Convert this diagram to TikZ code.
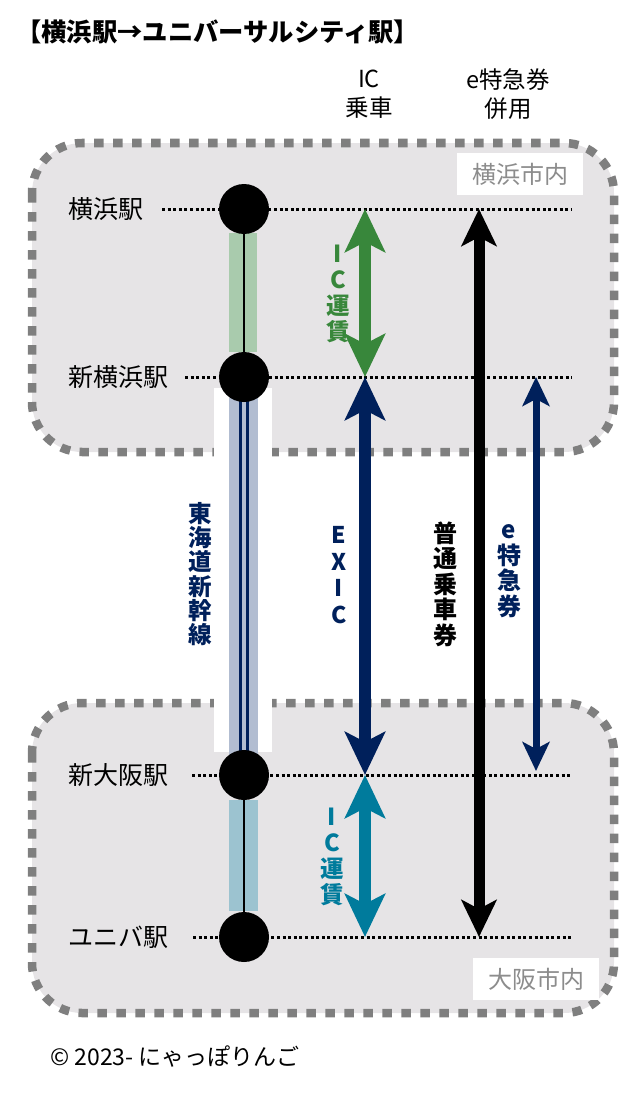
\documentclass[tikz,border=0pt]{standalone}
\usepackage{fontspec}
\setmainfont{Noto Sans CJK JP}
\usetikzlibrary{arrows.meta}
\pgfdeclarelayer{back}
\pgfsetlayers{back,main}
\definecolor{regfill}{HTML}{E6E4E6}
\definecolor{dashgray}{HTML}{7F7F7F}
\definecolor{icgreen}{HTML}{38873B}
\definecolor{gband}{HTML}{A9CBAD}
\definecolor{navy}{HTML}{00205B}
\definecolor{bband}{HTML}{B2BDD1}
\definecolor{icteal}{HTML}{007B9C}
\definecolor{tband}{HTML}{9CC3D0}
\definecolor{lblgray}{HTML}{8C8C8C}
\begin{document}
\begin{tikzpicture}[x=1pt,y=-1pt,
  region/.style={fill=regfill,draw=dashgray,line width=8.5pt,dash pattern=on 9.5pt off 9.5pt,rounded corners=50pt},
  station/.style={circle,fill=black,minimum size=50pt,inner sep=0pt},
  dotline/.style={line width=3pt,dash pattern=on 3pt off 2.6pt},
  bigarr/.style={line width=12pt,{Stealth[length=43pt,width=40pt,inset=10pt]}-{Stealth[length=43pt,width=40pt,inset=10pt]}},
  blackarr/.style={line width=11pt,{Stealth[length=37pt,width=35pt,inset=9pt]}-{Stealth[length=37pt,width=35pt,inset=9pt]}},
  smallarr/.style={line width=7pt,{Stealth[length=29pt,width=27pt,inset=7pt]}-{Stealth[length=29pt,width=27pt,inset=7pt]}},
  vlabel/.style={align=center,inner sep=0pt,font=\bfseries\fontsize{23.5}{26}\selectfont},
  slabel/.style={anchor=west,inner sep=0pt,font=\fontsize{25}{25}\selectfont},
  hlabel/.style={align=center,inner sep=0pt,font=\fontsize{23.5}{29}\selectfont},
  areabox/.style={fill=white,text=lblgray,inner sep=0pt,font=\fontsize{24}{24}\selectfont},
]
\useasboundingbox (0,0) rectangle (640,1097);
% stations
\node[station] (yk) at (244,209) {};
\node[station] (syk) at (244,377) {};
\node[station] (sos) at (244,775) {};
\node[station] (usj) at (244,937) {};
\begin{pgfonlayer}{back}
% regions
\draw[region] (32,143) rectangle (614,452);
\draw[region] (32,703) rectangle (614,1013);
\fill[white] (214,388) rectangle (272,460);
\fill[white] (214,695) rectangle (272,752);
% line bands
\fill[gband] (229,233) rectangle (257,352);
\fill[bband] (229,398) rectangle (258,758);
\fill[tband] (229,800) rectangle (258,911);
\draw[line width=2pt] (yk.center) -- (syk.center);
\draw[navy,line width=2.7pt] ([xshift=-3.5pt]syk.center) -- ([xshift=-3.5pt]sos.center);
\draw[navy,line width=2.7pt] ([xshift=3.5pt]syk.center) -- ([xshift=3.5pt]sos.center);
\draw[line width=2pt] (sos.center) -- (usj.center);
% dotted guide lines
\coordinate (d1a) at (162,209); \coordinate (d1b) at (572,209);
\coordinate (d2a) at (185,377); \coordinate (d2b) at (572,377);
\coordinate (d3a) at (192,775); \coordinate (d3b) at (572,775);
\coordinate (d4a) at (193,937); \coordinate (d4b) at (572,937);
\draw[dotline] (d1a) -- (d1b);
\draw[dotline] (d2a) -- (d2b);
\draw[dotline] (d3a) -- (d3b);
\draw[dotline] (d4a) -- (d4b);
\end{pgfonlayer}
\node[areabox,minimum width=126pt,minimum height=42pt] (ybox) at (520,174) {横浜市内};
\node[areabox,minimum width=126pt,minimum height=42pt] (obox) at (536,979) {大阪市内};
% title and headers
\node[anchor=west,inner sep=0pt,font=\bfseries\fontsize{25.3}{25}\selectfont] (title) at (16,32) {【横浜駅→ユニバーサルシティ駅】};
\node[hlabel] (h1) at (369,94) {IC\\乗車};
\node[hlabel] (h2) at (508,94) {e特急券\\併用};
% station labels
\node[slabel] (lyk) at (68,209) {横浜駅};
\node[slabel] (lsyk) at (68,377) {新横浜駅};
\node[slabel] (lsos) at (68,775) {新大阪駅};
\node[slabel] (lusj) at (68,937) {ユニバ駅};
% arrows
\coordinate (a1) at (365,209); \coordinate (a2) at (365,377);
\coordinate (a3) at (365,775); \coordinate (a4) at (365,937);
\coordinate (b1) at (479,209); \coordinate (b4) at (479,937);
\coordinate (c2) at (536,377); \coordinate (c3) at (536,771);
\draw[bigarr,icgreen] (a1) -- (a2);
\draw[bigarr,navy] (a2) -- (a3);
\draw[bigarr,icteal] (a3) -- (a4);
\draw[blackarr,black] (b1) -- (b4);
\draw[smallarr,navy] (c2) -- (c3);
% vertical labels
\node[vlabel,text=icgreen] (lic1) at (338,294) {I\\C\\運\\賃};
\node[vlabel,text=navy,font=\bfseries\fontsize{23}{26.5}\selectfont] (lexic) at (339,575) {E\\X\\I\\C};
\node[vlabel,text=black,font=\bfseries\fontsize{24}{25.5}\selectfont] (lfutsu) at (445,584) {普\\通\\乗\\車\\券};
\node[vlabel,text=navy,font=\bfseries\fontsize{24}{25.5}\selectfont] (letok) at (509,571) {e\\特\\急\\券};
\node[vlabel,text=navy,font=\bfseries\fontsize{23.5}{24.3}\selectfont] (lshin) at (200,574) {東\\海\\道\\新\\幹\\線};
\node[vlabel,text=icteal] (lic2) at (332,857) {I\\C\\運\\賃};
% copyright
\node[anchor=west,inner sep=0pt,font=\fontsize{23}{23}\selectfont] (copy) at (50,1057) {© 2023- にゃっぽりんご};
\end{tikzpicture}
\end{document}
